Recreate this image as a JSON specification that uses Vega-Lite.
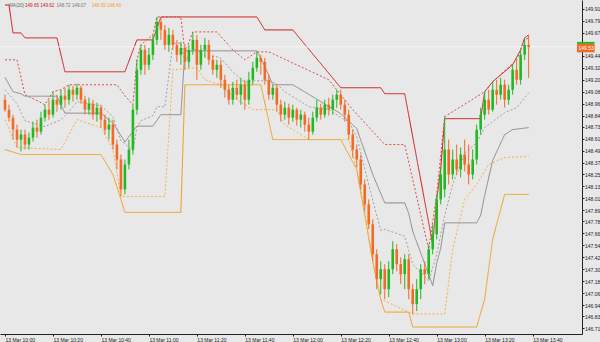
{
"$schema":"https://vega.github.io/schema/vega-lite/v6.json",
"width":582,"height":334,
"autosize":{"type":"none"},
"padding":{"left":0,"top":0,"right":18,"bottom":8},
"background":"#e8e8e8",
"config":{"view":{"stroke":null},"axis":{"grid":false,"domainColor":"#222","tickColor":"#222","labelColor":"#222","labelFontSize":5,"labelFont":"Liberation Sans","tickSize":2,"title":null,"labelOverlap":false}},
"datasets":{
"candles":[
{"i":0,"o":149.00,"h":149.05,"l":148.88,"c":148.90},
{"i":1,"o":148.90,"h":148.95,"l":148.78,"c":148.82},
{"i":2,"o":148.82,"h":148.85,"l":148.60,"c":148.70},
{"i":3,"o":148.70,"h":148.75,"l":148.52,"c":148.60},
{"i":4,"o":148.60,"h":148.70,"l":148.48,"c":148.65},
{"i":5,"o":148.65,"h":148.70,"l":148.50,"c":148.55},
{"i":6,"o":148.55,"h":148.67,"l":148.50,"c":148.62},
{"i":7,"o":148.62,"h":148.78,"l":148.58,"c":148.72},
{"i":8,"o":148.72,"h":148.80,"l":148.62,"c":148.68},
{"i":9,"o":148.68,"h":148.88,"l":148.65,"c":148.82},
{"i":10,"o":148.82,"h":148.95,"l":148.78,"c":148.90},
{"i":11,"o":148.90,"h":149.00,"l":148.80,"c":148.85},
{"i":12,"o":148.85,"h":149.08,"l":148.82,"c":149.00},
{"i":13,"o":149.00,"h":149.05,"l":148.88,"c":148.95},
{"i":14,"o":148.95,"h":149.10,"l":148.90,"c":149.04},
{"i":15,"o":149.04,"h":149.12,"l":148.92,"c":149.00},
{"i":16,"o":149.00,"h":149.15,"l":148.95,"c":149.10},
{"i":17,"o":149.10,"h":149.14,"l":148.98,"c":149.05},
{"i":18,"o":149.05,"h":149.16,"l":149.00,"c":149.12},
{"i":19,"o":149.12,"h":149.14,"l":148.96,"c":149.00},
{"i":20,"o":149.00,"h":149.04,"l":148.85,"c":148.90},
{"i":21,"o":148.90,"h":149.02,"l":148.85,"c":148.96},
{"i":22,"o":148.96,"h":149.00,"l":148.80,"c":148.85},
{"i":23,"o":148.85,"h":148.97,"l":148.78,"c":148.92},
{"i":24,"o":148.92,"h":148.95,"l":148.72,"c":148.80},
{"i":25,"o":148.80,"h":148.85,"l":148.65,"c":148.70},
{"i":26,"o":148.70,"h":148.82,"l":148.60,"c":148.75},
{"i":27,"o":148.75,"h":148.80,"l":148.50,"c":148.55},
{"i":28,"o":148.55,"h":148.60,"l":148.30,"c":148.40},
{"i":29,"o":148.40,"h":148.45,"l":148.03,"c":148.10},
{"i":30,"o":148.10,"h":148.40,"l":148.05,"c":148.35},
{"i":31,"o":148.35,"h":148.60,"l":148.30,"c":148.50},
{"i":32,"o":148.50,"h":148.95,"l":148.45,"c":148.90},
{"i":33,"o":148.90,"h":149.40,"l":148.85,"c":149.30},
{"i":34,"o":149.30,"h":149.55,"l":149.25,"c":149.50},
{"i":35,"o":149.50,"h":149.55,"l":149.25,"c":149.35},
{"i":36,"o":149.35,"h":149.52,"l":149.30,"c":149.45},
{"i":37,"o":149.45,"h":149.65,"l":149.40,"c":149.60},
{"i":38,"o":149.60,"h":149.83,"l":149.55,"c":149.78},
{"i":39,"o":149.78,"h":149.82,"l":149.60,"c":149.70},
{"i":40,"o":149.70,"h":149.75,"l":149.50,"c":149.55},
{"i":41,"o":149.55,"h":149.72,"l":149.48,"c":149.65},
{"i":42,"o":149.65,"h":149.70,"l":149.50,"c":149.55},
{"i":43,"o":149.55,"h":149.60,"l":149.38,"c":149.45},
{"i":44,"o":149.45,"h":149.58,"l":149.35,"c":149.52},
{"i":45,"o":149.52,"h":149.56,"l":149.30,"c":149.38},
{"i":46,"o":149.38,"h":149.55,"l":149.32,"c":149.50},
{"i":47,"o":149.50,"h":149.68,"l":149.45,"c":149.60},
{"i":48,"o":149.60,"h":149.65,"l":149.20,"c":149.35},
{"i":49,"o":149.35,"h":149.55,"l":149.30,"c":149.50},
{"i":50,"o":149.50,"h":149.62,"l":149.42,"c":149.55},
{"i":51,"o":149.55,"h":149.60,"l":149.35,"c":149.40},
{"i":52,"o":149.40,"h":149.45,"l":149.25,"c":149.30},
{"i":53,"o":149.30,"h":149.40,"l":149.22,"c":149.35},
{"i":54,"o":149.35,"h":149.40,"l":149.12,"c":149.20},
{"i":55,"o":149.20,"h":149.25,"l":149.02,"c":149.10},
{"i":56,"o":149.10,"h":149.15,"l":148.95,"c":149.00},
{"i":57,"o":149.00,"h":149.18,"l":148.95,"c":149.12},
{"i":58,"o":149.12,"h":149.20,"l":149.00,"c":149.05},
{"i":59,"o":149.05,"h":149.22,"l":148.95,"c":149.15},
{"i":60,"o":149.15,"h":149.20,"l":148.90,"c":149.00},
{"i":61,"o":149.00,"h":149.28,"l":148.95,"c":149.20},
{"i":62,"o":149.20,"h":149.38,"l":149.15,"c":149.32},
{"i":63,"o":149.32,"h":149.48,"l":149.28,"c":149.42},
{"i":64,"o":149.42,"h":149.45,"l":149.25,"c":149.38},
{"i":65,"o":149.38,"h":149.42,"l":149.15,"c":149.20},
{"i":66,"o":149.20,"h":149.25,"l":149.00,"c":149.05},
{"i":67,"o":149.05,"h":149.15,"l":149.00,"c":149.12},
{"i":68,"o":149.12,"h":149.15,"l":148.88,"c":148.95},
{"i":69,"o":148.95,"h":149.00,"l":148.78,"c":148.85},
{"i":70,"o":148.85,"h":148.98,"l":148.80,"c":148.92},
{"i":71,"o":148.92,"h":148.96,"l":148.75,"c":148.82},
{"i":72,"o":148.82,"h":148.95,"l":148.78,"c":148.90},
{"i":73,"o":148.90,"h":148.92,"l":148.74,"c":148.80},
{"i":74,"o":148.80,"h":148.90,"l":148.72,"c":148.85},
{"i":75,"o":148.85,"h":148.88,"l":148.68,"c":148.75},
{"i":76,"o":148.75,"h":148.82,"l":148.60,"c":148.68},
{"i":77,"o":148.68,"h":148.88,"l":148.65,"c":148.82},
{"i":78,"o":148.82,"h":149.00,"l":148.78,"c":148.92},
{"i":79,"o":148.92,"h":148.96,"l":148.80,"c":148.85},
{"i":80,"o":148.85,"h":149.00,"l":148.82,"c":148.95},
{"i":81,"o":148.95,"h":149.02,"l":148.84,"c":148.90},
{"i":82,"o":148.90,"h":149.05,"l":148.85,"c":149.00},
{"i":83,"o":149.00,"h":149.10,"l":148.92,"c":149.05},
{"i":84,"o":149.05,"h":149.10,"l":148.90,"c":148.95},
{"i":85,"o":148.95,"h":149.00,"l":148.78,"c":148.85},
{"i":86,"o":148.85,"h":148.90,"l":148.60,"c":148.65},
{"i":87,"o":148.65,"h":148.70,"l":148.42,"c":148.50},
{"i":88,"o":148.50,"h":148.55,"l":148.32,"c":148.40},
{"i":89,"o":148.40,"h":148.45,"l":148.10,"c":148.15},
{"i":90,"o":148.15,"h":148.20,"l":147.88,"c":147.95},
{"i":91,"o":147.95,"h":148.00,"l":147.70,"c":147.75},
{"i":92,"o":147.75,"h":147.80,"l":147.38,"c":147.45},
{"i":93,"o":147.45,"h":147.50,"l":147.10,"c":147.20},
{"i":94,"o":147.20,"h":147.38,"l":147.05,"c":147.30},
{"i":95,"o":147.30,"h":147.35,"l":147.00,"c":147.10},
{"i":96,"o":147.10,"h":147.38,"l":147.02,"c":147.30},
{"i":97,"o":147.30,"h":147.58,"l":147.25,"c":147.50},
{"i":98,"o":147.50,"h":147.55,"l":147.28,"c":147.35},
{"i":99,"o":147.35,"h":147.42,"l":147.15,"c":147.25},
{"i":100,"o":147.25,"h":147.45,"l":147.10,"c":147.40},
{"i":101,"o":147.40,"h":147.45,"l":147.00,"c":147.10},
{"i":102,"o":147.10,"h":147.15,"l":146.85,"c":146.95},
{"i":103,"o":146.95,"h":147.20,"l":146.88,"c":147.10},
{"i":104,"o":147.10,"h":147.35,"l":147.00,"c":147.30},
{"i":105,"o":147.30,"h":147.38,"l":147.15,"c":147.25},
{"i":106,"o":147.25,"h":147.55,"l":147.20,"c":147.50},
{"i":107,"o":147.50,"h":147.75,"l":147.45,"c":147.65},
{"i":108,"o":147.65,"h":148.05,"l":147.60,"c":148.00},
{"i":109,"o":148.00,"h":148.32,"l":147.95,"c":148.25},
{"i":110,"o":148.10,"h":148.83,"l":148.02,"c":148.50},
{"i":111,"o":148.50,"h":148.60,"l":148.15,"c":148.25},
{"i":112,"o":148.25,"h":148.50,"l":148.20,"c":148.40},
{"i":113,"o":148.40,"h":148.55,"l":148.25,"c":148.30},
{"i":114,"o":148.30,"h":148.52,"l":148.22,"c":148.45},
{"i":115,"o":148.45,"h":148.60,"l":148.28,"c":148.35},
{"i":116,"o":148.35,"h":148.55,"l":148.15,"c":148.25},
{"i":117,"o":148.25,"h":148.50,"l":148.20,"c":148.40},
{"i":118,"o":148.40,"h":148.75,"l":148.35,"c":148.70},
{"i":119,"o":148.70,"h":148.92,"l":148.65,"c":148.85},
{"i":120,"o":148.85,"h":149.08,"l":148.80,"c":149.00},
{"i":121,"o":149.00,"h":149.10,"l":148.85,"c":148.90},
{"i":122,"o":148.90,"h":149.18,"l":148.88,"c":149.10},
{"i":123,"o":149.10,"h":149.20,"l":148.95,"c":149.05},
{"i":124,"o":149.05,"h":149.22,"l":149.00,"c":149.15},
{"i":125,"o":149.15,"h":149.20,"l":148.92,"c":149.00},
{"i":126,"o":149.00,"h":149.15,"l":148.95,"c":149.10},
{"i":127,"o":149.10,"h":149.35,"l":149.05,"c":149.30},
{"i":128,"o":149.30,"h":149.40,"l":149.15,"c":149.20},
{"i":129,"o":149.20,"h":149.50,"l":149.15,"c":149.45},
{"i":130,"o":149.45,"h":149.62,"l":149.40,"c":149.55},
{"i":131,"o":149.55,"h":149.65,"l":149.22,"c":149.53}
],
"lines":[
{"s":"R1","i":0,"v":149.95},{"s":"R1","i":1,"v":149.95},{"s":"R1","i":2,"v":149.67},{"s":"R1","i":4,"v":149.67},{"s":"R1","i":5,"v":149.62},{"s":"R1","i":13,"v":149.62},{"s":"R1","i":15,"v":149.28},{"s":"R1","i":30,"v":149.28},{"s":"R1","i":33,"v":149.60},{"s":"R1","i":37,"v":149.60},{"s":"R1","i":39,"v":149.83},{"s":"R1","i":63,"v":149.83},{"s":"R1","i":65,"v":149.70},{"s":"R1","i":72,"v":149.70},{"s":"R1","i":84,"v":149.12},{"s":"R1","i":94,"v":149.12},{"s":"R1","i":95,"v":149.06},{"s":"R1","i":100,"v":149.06},{"s":"R1","i":107,"v":147.55},{"s":"R1","i":108,"v":148.00},{"s":"R1","i":109,"v":148.30},{"s":"R1","i":110,"v":148.81},{"s":"R1","i":119,"v":148.81},{"s":"R1","i":120,"v":149.08},{"s":"R1","i":122,"v":149.18},{"s":"R1","i":127,"v":149.35},{"s":"R1","i":129,"v":149.50},{"s":"R1","i":130,"v":149.62},{"s":"R1","i":131,"v":149.65},
{"s":"R2","i":0,"v":149.40},{"s":"R2","i":3,"v":149.40},{"s":"R2","i":5,"v":149.05},{"s":"R2","i":10,"v":148.95},{"s":"R2","i":12,"v":149.08},{"s":"R2","i":14,"v":149.10},{"s":"R2","i":16,"v":149.15},{"s":"R2","i":28,"v":149.15},{"s":"R2","i":30,"v":149.04},{"s":"R2","i":32,"v":148.95},{"s":"R2","i":33,"v":149.40},{"s":"R2","i":34,"v":149.55},{"s":"R2","i":37,"v":149.65},{"s":"R2","i":38,"v":149.83},{"s":"R2","i":44,"v":149.83},{"s":"R2","i":45,"v":149.47},{"s":"R2","i":47,"v":149.68},{"s":"R2","i":53,"v":149.68},{"s":"R2","i":57,"v":149.50},{"s":"R2","i":60,"v":149.40},{"s":"R2","i":63,"v":149.48},{"s":"R2","i":66,"v":149.48},{"s":"R2","i":81,"v":149.20},{"s":"R2","i":85,"v":149.00},{"s":"R2","i":87,"v":148.90},{"s":"R2","i":95,"v":148.55},{"s":"R2","i":100,"v":148.55},{"s":"R2","i":106,"v":147.50},{"s":"R2","i":108,"v":148.05},{"s":"R2","i":110,"v":148.83},{"s":"R2","i":120,"v":149.08},{"s":"R2","i":122,"v":149.18},{"s":"R2","i":128,"v":149.40},{"s":"R2","i":130,"v":149.60},{"s":"R2","i":131,"v":149.62},
{"s":"O1","i":0,"v":148.50},{"s":"O1","i":4,"v":148.45},{"s":"O1","i":24,"v":148.45},{"s":"O1","i":27,"v":148.25},{"s":"O1","i":29,"v":148.00},{"s":"O1","i":30,"v":147.87},{"s":"O1","i":44,"v":147.87},{"s":"O1","i":45,"v":149.15},{"s":"O1","i":64,"v":149.15},{"s":"O1","i":67,"v":148.60},{"s":"O1","i":84,"v":148.60},{"s":"O1","i":88,"v":148.30},{"s":"O1","i":92,"v":147.38},{"s":"O1","i":94,"v":147.00},{"s":"O1","i":95,"v":146.87},{"s":"O1","i":101,"v":146.87},{"s":"O1","i":102,"v":146.72},{"s":"O1","i":118,"v":146.72},{"s":"O1","i":120,"v":147.00},{"s":"O1","i":122,"v":147.60},{"s":"O1","i":125,"v":148.05},{"s":"O1","i":131,"v":148.05},
{"s":"O2","i":0,"v":148.80},{"s":"O2","i":3,"v":148.52},{"s":"O2","i":14,"v":148.50},{"s":"O2","i":18,"v":148.80},{"s":"O2","i":24,"v":148.72},{"s":"O2","i":27,"v":148.50},{"s":"O2","i":29,"v":148.03},{"s":"O2","i":40,"v":148.03},{"s":"O2","i":42,"v":149.30},{"s":"O2","i":48,"v":149.32},{"s":"O2","i":50,"v":149.20},{"s":"O2","i":54,"v":149.15},{"s":"O2","i":58,"v":149.00},{"s":"O2","i":62,"v":148.90},{"s":"O2","i":68,"v":148.90},{"s":"O2","i":70,"v":148.75},{"s":"O2","i":76,"v":148.60},{"s":"O2","i":86,"v":148.60},{"s":"O2","i":88,"v":148.30},{"s":"O2","i":90,"v":147.88},{"s":"O2","i":92,"v":147.38},{"s":"O2","i":94,"v":147.00},{"s":"O2","i":102,"v":146.85},{"s":"O2","i":110,"v":146.85},{"s":"O2","i":112,"v":147.50},{"s":"O2","i":115,"v":148.00},{"s":"O2","i":118,"v":148.15},{"s":"O2","i":121,"v":148.35},{"s":"O2","i":125,"v":148.42},{"s":"O2","i":131,"v":148.43},
{"s":"G1","i":0,"v":149.225},{"s":"G1","i":2,"v":149.08},{"s":"G1","i":4,"v":149.06},{"s":"G1","i":5,"v":149.035},{"s":"G1","i":13,"v":149.035},{"s":"G1","i":15,"v":148.865},{"s":"G1","i":24,"v":148.865},{"s":"G1","i":27,"v":148.765},{"s":"G1","i":29,"v":148.64},{"s":"G1","i":30,"v":148.575},{"s":"G1","i":33,"v":148.735},{"s":"G1","i":37,"v":148.735},{"s":"G1","i":39,"v":148.85},{"s":"G1","i":44,"v":148.85},{"s":"G1","i":45,"v":149.49},{"s":"G1","i":63,"v":149.49},{"s":"G1","i":65,"v":149.335},{"s":"G1","i":67,"v":149.15},{"s":"G1","i":72,"v":149.15},{"s":"G1","i":84,"v":148.86},{"s":"G1","i":88,"v":148.71},{"s":"G1","i":92,"v":148.25},{"s":"G1","i":94,"v":148.06},{"s":"G1","i":95,"v":147.965},{"s":"G1","i":100,"v":147.965},{"s":"G1","i":101,"v":147.86},{"s":"G1","i":102,"v":147.68},{"s":"G1","i":107,"v":147.135},{"s":"G1","i":108,"v":147.36},{"s":"G1","i":109,"v":147.51},{"s":"G1","i":110,"v":147.765},{"s":"G1","i":118,"v":147.765},{"s":"G1","i":119,"v":147.84},{"s":"G1","i":120,"v":148.04},{"s":"G1","i":122,"v":148.39},{"s":"G1","i":125,"v":148.65},{"s":"G1","i":127,"v":148.70},{"s":"G1","i":131,"v":148.72},
{"s":"G2","i":0,"v":149.10},{"s":"G2","i":3,"v":148.96},{"s":"G2","i":5,"v":148.79},{"s":"G2","i":10,"v":148.73},{"s":"G2","i":14,"v":148.80},{"s":"G2","i":16,"v":148.88},{"s":"G2","i":18,"v":148.98},{"s":"G2","i":24,"v":148.94},{"s":"G2","i":27,"v":148.83},{"s":"G2","i":29,"v":148.59},{"s":"G2","i":32,"v":148.49},{"s":"G2","i":33,"v":148.72},{"s":"G2","i":34,"v":148.79},{"s":"G2","i":37,"v":148.84},{"s":"G2","i":38,"v":148.93},{"s":"G2","i":40,"v":148.93},{"s":"G2","i":42,"v":149.565},{"s":"G2","i":44,"v":149.57},{"s":"G2","i":45,"v":149.39},{"s":"G2","i":47,"v":149.50},{"s":"G2","i":48,"v":149.50},{"s":"G2","i":50,"v":149.44},{"s":"G2","i":53,"v":149.43},{"s":"G2","i":54,"v":149.415},{"s":"G2","i":57,"v":149.28},{"s":"G2","i":60,"v":149.17},{"s":"G2","i":62,"v":149.19},{"s":"G2","i":66,"v":149.19},{"s":"G2","i":68,"v":149.16},{"s":"G2","i":70,"v":149.08},{"s":"G2","i":76,"v":148.93},{"s":"G2","i":81,"v":148.90},{"s":"G2","i":85,"v":148.80},{"s":"G2","i":86,"v":148.78},{"s":"G2","i":88,"v":148.63},{"s":"G2","i":90,"v":148.31},{"s":"G2","i":92,"v":147.99},{"s":"G2","i":94,"v":147.69},{"s":"G2","i":95,"v":147.70},{"s":"G2","i":100,"v":147.63},{"s":"G2","i":102,"v":147.35},{"s":"G2","i":106,"v":147.18},{"s":"G2","i":108,"v":147.45},{"s":"G2","i":110,"v":147.84},{"s":"G2","i":112,"v":148.15},{"s":"G2","i":115,"v":148.46},{"s":"G2","i":118,"v":148.57},{"s":"G2","i":120,"v":148.72},{"s":"G2","i":122,"v":148.78},{"s":"G2","i":125,"v":148.87},{"s":"G2","i":128,"v":148.92},{"s":"G2","i":131,"v":149.07}
]
},
"layer":[
{"data":{"name":"lines"},"mark":{"type":"line","strokeWidth":1,"clip":true},
 "encoding":{
  "x":{"field":"i","type":"quantitative","scale":{"domain":[0,143.1],"nice":false,"zero":false},"axis":{"orient":"bottom","values":[0,12,24,36,48,60,72,84,96,108,120,132],"tickCount":40,"labelAlign":"left","labelPadding":1,"labelOverlap":false,"labelExpr":"['13 Mar 10:00','13 Mar 10:20','13 Mar 10:40','13 Mar 11:00','13 Mar 11:20','13 Mar 11:40','13 Mar 12:00','13 Mar 12:20','13 Mar 12:40','13 Mar 13:00','13 Mar 13:20','13 Mar 13:40'][round(datum.value/12)]"}},
  "y":{"field":"v","type":"quantitative","scale":{"domain":[146.65,150.0],"nice":false,"zero":false},"axis":{"orient":"right","values":[149.91,149.79,149.67,149.44,149.32,149.20,149.08,148.96,148.84,148.73,148.61,148.49,148.37,148.25,148.13,148.01,147.89,147.78,147.66,147.54,147.42,147.30,147.18,147.06,146.94,146.83,146.71],"tickCount":60,"format":".2f","labelPadding":0.5,"labelOverlap":false,"labelFlush":false}},
  "color":{"field":"s","type":"nominal","legend":null,"scale":{"domain":["R1","R2","G1","G2","O1","O2"],"range":["#d01818","#e04848","#8a8a8a","#a0a0a0","#f0a020","#f4b040"]}},
  "strokeDash":{"field":"s","type":"nominal","legend":null,"scale":{"domain":["R1","R2","G1","G2","O1","O2"],"range":[[1,0],[2,2],[1,0],[2,2],[1,0],[2,2]]}},
  "detail":{"field":"s"}}},
{"data":{"values":[{"p":149.53}]},"mark":{"type":"rule","color":"#f8f4f4","strokeWidth":1},"encoding":{"y":{"field":"p","type":"quantitative"}}},
{"data":{"name":"candles"},"mark":{"type":"rule","strokeWidth":1},
 "encoding":{"x":{"field":"i","type":"quantitative"},"y":{"field":"l","type":"quantitative"},"y2":{"field":"h"},
  "color":{"condition":{"test":"datum.c >= datum.o","value":"#22b822"},"value":"#f26a24"}}},
{"data":{"name":"candles"},"mark":{"type":"bar","width":2.6},
 "encoding":{"x":{"field":"i","type":"quantitative"},"y":{"field":"o","type":"quantitative"},"y2":{"field":"c"},
  "color":{"condition":{"test":"datum.c >= datum.o","value":"#22b822"},"value":"#f26a24"}}},
{"data":{"values":[{"t":"149.53"}]},"mark":{"type":"rect","color":"#f26a24","clip":false},"encoding":{"x":{"datum":143.1},"x2":{"datum":147.5},"y":{"datum":149.475},"y2":{"datum":149.56}}},
{"data":{"values":[{"t":"149.53"}]},"mark":{"type":"rect","color":"#22b822","clip":false},"encoding":{"x":{"datum":143.1},"x2":{"datum":147.5},"y":{"datum":149.56},"y2":{"datum":149.58}}},
{"data":{"values":[{"t":"149.53"}]},"mark":{"type":"text","align":"left","baseline":"middle","fontSize":5,"color":"#ffffff","font":"Liberation Sans","dx":1.5,"clip":false},"encoding":{"x":{"datum":143.1},"y":{"datum":149.515},"text":{"field":"t"}}},
{"data":{"values":[{"t":"MA(20)"}]},"mark":{"type":"text","align":"left","baseline":"middle","fontSize":4.6,"color":"#666666","font":"Liberation Sans"},"encoding":{"x":{"datum":1.0},"y":{"datum":149.94},"text":{"field":"t"}}},
{"data":{"values":[{"t":"149.65 149.62"}]},"mark":{"type":"text","align":"left","baseline":"middle","fontSize":4.6,"color":"#d01818","font":"Liberation Sans"},"encoding":{"x":{"datum":5},"y":{"datum":149.94},"text":{"field":"t"}}},
{"data":{"values":[{"t":"148.72 149.07"}]},"mark":{"type":"text","align":"left","baseline":"middle","fontSize":4.6,"color":"#777777","font":"Liberation Sans"},"encoding":{"x":{"datum":12.9},"y":{"datum":149.94},"text":{"field":"t"}}},
{"data":{"values":[{"t":"148.05 148.43"}]},"mark":{"type":"text","align":"left","baseline":"middle","fontSize":4.6,"color":"#f0a020","font":"Liberation Sans"},"encoding":{"x":{"datum":21.7},"y":{"datum":149.94},"text":{"field":"t"}}}
]
}
